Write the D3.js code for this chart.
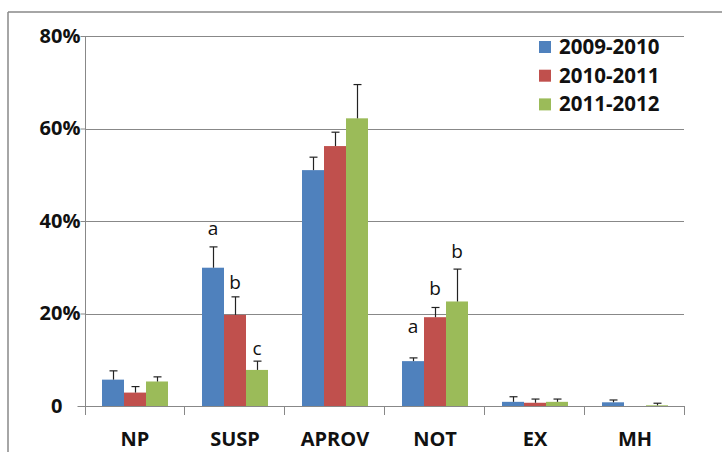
<!DOCTYPE html>
<html>
<head>
<meta charset="utf-8">
<script src="https://cdn.jsdelivr.net/npm/d3@7"></script>
<style>
  html, body { margin: 0; padding: 0; background: #fff; }
  svg { display: block; }
</style>
</head>
<body>
<svg id="chart" width="722" height="452"></svg>
<script>
// ---- data ----
const categories = ["NP", "SUSP", "APROV", "NOT", "EX", "MH"];
const seriesNames = ["2009-2010", "2010-2011", "2011-2012"];
const seriesColors = ["#4F81BD", "#C0504D", "#9BBB59"];
const values2009 = [5.7, 29.9, 51.0, 9.7, 0.9, 0.8];
const values2010 = [2.9, 19.7, 56.2, 19.2, 0.7, 0.0];
const values2011 = [5.3, 7.8, 62.2, 22.6, 0.9, 0.15];
const errors2009 = [1.9, 4.5, 2.8, 0.7, 1.1, 0.5];
const errors2010 = [1.3, 3.9, 3.0, 2.1, 0.8, 0];
const errors2011 = [1.0, 1.9, 7.3, 7.0, 0.6, 0.45];
const yTicks = [0, 20, 40, 60, 80];
// significance letters: category, series index, letter, label level (%)
const letterCats = ["SUSP", "SUSP", "SUSP", "NOT", "NOT", "NOT"];
const letterSeries = [0, 1, 2, 0, 1, 2];
const letterText = ["a", "b", "c", "a", "b", "b"];
const letterLevel = [37.0, 25.2, 11.0, 15.7, 24.0, 31.9];

const values = [values2009, values2010, values2011];
const errors = [errors2009, errors2010, errors2011];

// ---- layout ----
const svg = d3.select("#chart");
const plot = { left: 85, right: 685, top: 36, bottom: 406 };
const gray = "#888888";

const x = d3.scaleBand().domain(categories).range([plot.left, plot.right]).paddingInner(0).paddingOuter(0);
const groupW = x.bandwidth() * 0.66;
const xs = d3.scaleBand().domain(d3.range(seriesNames.length)).range([0, groupW]).padding(0);
const groupOff = (x.bandwidth() - groupW) / 2;
const y = d3.scaleLinear().domain([0, 80]).range([plot.bottom, plot.top]);

// outer frame (top + left)
svg.append("line").attr("x1", 8).attr("x2", 722).attr("y1", 12).attr("y2", 12)
  .attr("stroke", gray).attr("stroke-width", 1.5);
svg.append("line").attr("x1", 8).attr("x2", 8).attr("y1", 12).attr("y2", 452)
  .attr("stroke", gray).attr("stroke-width", 1.5);

// gridlines
svg.append("g").selectAll("line").data(yTicks.filter(d => d > 0)).join("line")
  .attr("x1", plot.left).attr("x2", plot.right - 1)
  .attr("y1", d => Math.round(y(d)) + 0.5).attr("y2", d => Math.round(y(d)) + 0.5)
  .attr("stroke", gray).attr("stroke-width", 1);

// bars
const groups = svg.append("g").selectAll("g").data(seriesNames).join("g")
  .attr("fill", (d, i) => seriesColors[i]);
groups.each(function(name, si) {
  d3.select(this).selectAll("rect").data(categories).join("rect")
    .attr("x", (c) => x(c) + groupOff + xs(si))
    .attr("width", xs.bandwidth())
    .attr("y", (c, ci) => y(values[si][ci]))
    .attr("height", (c, ci) => y(0) - y(values[si][ci]));
});

// error bars (upper only)
const ebG = svg.append("g").attr("stroke", "#222").attr("stroke-width", 1.2);
seriesNames.forEach((name, si) => {
  categories.forEach((c, ci) => {
    const e = errors[si][ci];
    if (!e) return;
    const cx = Math.round(x(c) + groupOff + xs(si) + xs.bandwidth() / 2) + 0.5;
    const v = values[si][ci];
    ebG.append("line").attr("x1", cx).attr("x2", cx).attr("y1", y(v)).attr("y2", y(v + e));
    ebG.append("line").attr("x1", cx - 4).attr("x2", cx + 4).attr("y1", y(v + e)).attr("y2", y(v + e));
  });
});

// y axis
const yAxis = d3.axisLeft(y).tickValues(yTicks)
  .tickFormat(d => d === 0 ? "0" : d + "%")
  .tickSizeInner(5).tickSizeOuter(0).tickPadding(0);
const yg = svg.append("g").attr("transform", `translate(${plot.left + 0.5},0)`).call(yAxis);
yg.select(".domain").remove();
yg.selectAll(".tick line").attr("stroke", gray);
yg.selectAll(".tick text")
  .attr("font-family", "'Open Sans', sans-serif").attr("font-weight", "bold")
  .attr("font-size", 20).attr("fill", "#111");
// zero label leaves room for the percent sign
yg.selectAll(".tick").filter(d => d === 0).each(function() {
  const t = d3.select(this).select("text");
  const tmp = svg.append("text").attr("font-family", "'Open Sans', sans-serif")
    .attr("font-weight", "bold").attr("font-size", 20).text("%");
  const w = tmp.node().getComputedTextLength();
  tmp.remove();
  t.attr("x", -5 - w);
  d3.select(this).select("line").attr("x2", -8);
});
svg.append("line").attr("x1", plot.left + 0.5).attr("x2", plot.left + 0.5)
  .attr("y1", plot.top).attr("y2", plot.bottom + 9).attr("stroke", gray);

// x axis
const xAxis = d3.axisBottom(x).tickSize(0).tickPadding(0);
const xg = svg.append("g").attr("transform", `translate(0,${plot.bottom + 0.5})`).call(xAxis);
xg.select(".domain").remove();
xg.selectAll(".tick text")
  .attr("y", 25)
  .attr("font-family", "'Open Sans', sans-serif").attr("font-weight", "bold")
  .attr("font-size", 20).attr("fill", "#111");
svg.append("line").attr("x1", plot.left).attr("x2", plot.right - 1)
  .attr("y1", plot.bottom + 0.5).attr("y2", plot.bottom + 0.5).attr("stroke", gray);
// category boundary ticks
const bounds = categories.map(c => x(c)).concat([x(categories[categories.length - 1]) + x.bandwidth()]);
svg.append("g").selectAll("line").data(bounds.slice(1)).join("line")
  .attr("x1", d => Math.round(d) - 0.5).attr("x2", d => Math.round(d) - 0.5)
  .attr("y1", plot.bottom).attr("y2", plot.bottom + 9).attr("stroke", gray);

// significance letters
svg.append("g").selectAll("text").data(letterText).join("text")
  .attr("x", (d, i) => x(letterCats[i]) + groupOff + xs(letterSeries[i]) + xs.bandwidth() / 2)
  .attr("y", (d, i) => y(letterLevel[i]))
  .attr("text-anchor", "middle")
  .attr("font-family", "'Open Sans', sans-serif").attr("font-size", 19).attr("fill", "#111")
  .text(d => d);

// legend
const legend = svg.append("g").attr("transform", "translate(539,41)");
const li = legend.selectAll("g").data(seriesNames).join("g")
  .attr("transform", (d, i) => `translate(0,${i * 28.7})`);
li.append("rect").attr("width", 12).attr("height", 12).attr("fill", (d, i) => seriesColors[i]);
li.append("text").attr("x", 20).attr("y", 13)
  .attr("font-family", "'Open Sans', sans-serif").attr("font-weight", "bold")
  .attr("font-size", 20.5).attr("fill", "#111").text(d => d);
</script>
</body>
</html>
